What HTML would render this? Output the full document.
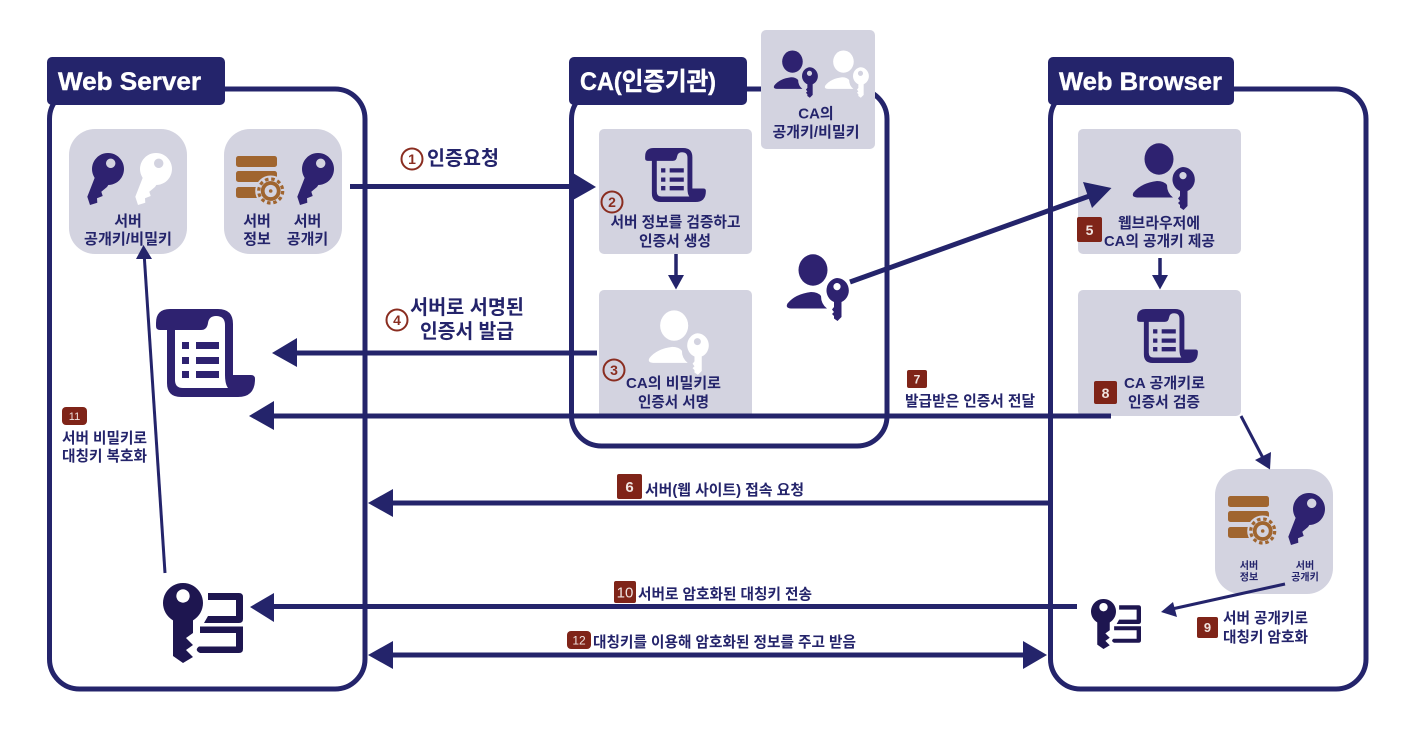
<!DOCTYPE html>
<html lang="ko">
<head>
<meta charset="utf-8">
<title>Diagram</title>
<style>
html,body{margin:0;padding:0;background:#fff;}
svg{display:block;}
text{font-family:"Liberation Sans","Noto Sans CJK KR",sans-serif;font-weight:700;fill:#24246b;}
.m{font-size:15px;text-anchor:middle;}
.s{font-size:15px;}
.t{font-size:25px;fill:#fff;stroke:#fff;stroke-width:.4;}
.b{fill:#f0e4e0;font-size:14px;text-anchor:middle;}
.n{fill:#8a2d20;font-size:14px;text-anchor:middle;}
.a{stroke:#24246b;fill:none;}
.h{fill:#24246b;}
.tile{fill:#d3d3e0;}
.bad{fill:#7f2418;}
.ring2{fill:none;stroke:#8a2d20;stroke-width:2;}
</style>
</head>
<body>
<svg width="1410" height="736" viewBox="0 0 1410 736" xmlns="http://www.w3.org/2000/svg">
<defs>
<symbol id="key" viewBox="0 0 40 56" overflow="visible">
<path fill="currentColor" fill-rule="evenodd" d="M21 2a16 16 0 1 1 -.01 0ZM23.700 7.600a4.700 4.700 0 1 0 .01 0Z"/>
<path fill="currentColor" d="M8 26L24 30L20 36L14.300 40.700L15.700 45L10 47.300L10.300 51.700L3 54L.3 45.700Z"/>
</symbol>
<symbol id="server" viewBox="0 0 50 50" overflow="visible">
<rect x="0" y="0" width="41" height="11" rx="2.500" fill="#a0652f"/>
<rect x="0" y="15" width="41" height="11" rx="2.500" fill="#a0652f"/>
<rect x="0" y="31" width="34" height="11" rx="2.500" fill="#a0652f"/>
<circle cx="34.700" cy="35" r="15.500" fill="#d3d3e0"/>
<circle cx="34.700" cy="35" r="12" fill="none" stroke="#a0652f" stroke-width="3.200" stroke-dasharray="3.500 2.800"/>
<circle cx="34.700" cy="35" r="8" fill="none" stroke="#a0652f" stroke-width="3.800"/>
<circle cx="34.700" cy="35" r="1.800" fill="#a0652f"/>
</symbol>
<symbol id="scroll" viewBox="0 0 99 88" overflow="visible">
<path fill="#2e2270" fill-rule="evenodd" d="M14 0H62Q77 0 77 15V66H95Q99 66 99 70Q99 88 82 88H25Q11 88 11 74V21H4Q0 21 0 17V14Q0 0 14 0ZM19 21V71Q19 79 27 79H72Q69 75 69 66V16Q69 7 60 7Q53 7 52 14Q51 21 45 21Z"/>
<path fill="#2e2270" d="M26 33h7v7h-7zM26 48h7v7h-7zM26 62h7v7h-7zM40 33h23v7h-23zM40 48h23v7h-23zM40 62h23v7h-23z"/>
</symbol>
<symbol id="pk" viewBox="0 0 62 67" overflow="visible">
<ellipse cx="26" cy="16" rx="14.500" ry="15.700" fill="currentColor"/>
<path fill="currentColor" d="M4 54.500Q-2 54 .5 49.500Q8 40 24 38Q31 38 34 42Q34 50 40 54.500Z"/>
<path fill="currentColor" fill-rule="evenodd" d="M50 24a12 12.500 0 0 1 4.500 24V63L50.500 67L47 64.500V62L45 60L47 58L45 55.500L47 53V48A12 12.500 0 0 1 50 24ZM50 29a3.600 3.600 0 1 0 .01 0Z"/>
</symbol>
<symbol id="sym" viewBox="0 0 80 80" overflow="visible">
<path fill="#1e1650" fill-rule="evenodd" d="M20 0a20 20 0 1 1 -.01 0ZM20 6.300a6.700 6.700 0 1 0 .01 0Z"/>
<path fill="#1e1650" d="M10 33H30V50L23 55L30 62L23 67L30 74L20 80L10 73Z"/>
<path fill="#1e1650" d="M45 10H76Q80 10 80 14V36Q80 40 76 40H41L45 33H73V17H45Z"/>
<path fill="#1e1650" d="M37 43.500H80V66Q80 70 76 70H37Q31 67 36 63.500H73V50H37Z"/>
</symbol>
</defs>

<!-- frames -->
<rect x="49.500" y="89" width="315.500" height="600" rx="30" fill="none" stroke="#24246b" stroke-width="5"/>
<rect x="571.500" y="89" width="315.500" height="357" rx="30" fill="none" stroke="#24246b" stroke-width="5"/>
<rect x="1050.500" y="89" width="315.500" height="600" rx="30" fill="none" stroke="#24246b" stroke-width="5"/>

<!-- headers -->
<rect x="47" y="57" width="178" height="48" rx="5" fill="#24246b"/>
<rect x="569" y="57" width="178" height="48" rx="5" fill="#24246b"/>
<rect x="1048" y="57" width="186" height="48" rx="5" fill="#24246b"/>
<text class="t" x="58" y="90" textLength="143" lengthAdjust="spacingAndGlyphs">Web Server</text>
<text class="t" x="580" y="90" textLength="136" lengthAdjust="spacingAndGlyphs">CA(인증기관)</text>
<text class="t" x="1059" y="90" textLength="163" lengthAdjust="spacingAndGlyphs">Web Browser</text>

<!-- tiles -->
<rect class="tile" x="69" y="129" width="118" height="125" rx="26"/>
<rect class="tile" x="224" y="129" width="118" height="125" rx="26"/>
<rect class="tile" x="599" y="129" width="153" height="125" rx="5"/>
<rect class="tile" x="599" y="290" width="153" height="128" rx="5"/>
<rect class="tile" x="761" y="30" width="114" height="119" rx="5"/>
<rect class="tile" x="1078" y="129" width="163" height="125" rx="5"/>
<rect class="tile" x="1078" y="290" width="163" height="126" rx="5"/>
<rect class="tile" x="1215" y="469" width="118" height="125" rx="26"/>

<!-- icons -->
<use href="#key" x="87" y="151" width="40" height="56" color="#2e2270"/>
<use href="#key" x="135" y="151" width="40" height="56" color="#ffffff"/>
<use href="#server" x="236" y="156" width="50" height="50"/>
<use href="#key" x="297" y="151" width="40" height="56" color="#2e2270"/>
<use href="#server" x="1228" y="496" width="50" height="50"/>
<use href="#key" x="1288" y="491" width="40" height="56" color="#2e2270"/>
<use href="#scroll" x="645" y="148" width="61" height="54"/>
<use href="#scroll" x="1137" y="309" width="61" height="54"/>
<use href="#scroll" x="156" y="309" width="99" height="88"/>
<use href="#pk" x="1133" y="143" width="62" height="67" color="#2e2270"/>
<use href="#pk" x="787" y="254" width="62" height="67" color="#2e2270"/>
<use href="#pk" x="649" y="310" width="60" height="65" color="#ffffff"/>
<use href="#pk" x="774" y="50" width="44" height="48" color="#2e2270"/>
<use href="#pk" x="825" y="50" width="44" height="48" color="#ffffff"/>
<use href="#sym" x="163" y="583" width="80" height="80"/>
<use href="#sym" x="1091" y="599" width="50" height="50"/>

<!-- arrows -->
<path class="a" stroke-width="5" d="M350 186.500H575"/>
<path class="h" d="M573 173L596 187L573 200Z"/>
<path class="a" stroke-width="3.500" d="M676 254V277"/>
<path class="h" d="M668 275H684L676 289.500Z"/>
<path class="a" stroke-width="3.500" d="M1160 258V277"/>
<path class="h" d="M1152 275H1168L1160 289.500Z"/>
<path class="a" stroke-width="5" d="M597 353H295"/>
<path class="h" d="M272 353L297 338V367Z"/>
<path class="a" stroke-width="5" d="M1111 416H272"/>
<path class="h" d="M249 416L274 401V430Z"/>
<path class="a" stroke-width="5" d="M850 282L1095 194"/>
<path class="h" d="M1111.500 188L1083 182L1092 208Z"/>
<path class="a" stroke-width="5" d="M1048 503H391"/>
<path class="h" d="M368 503L393 489V517Z"/>
<path class="a" stroke-width="5" d="M1077 606.500H272"/>
<path class="h" d="M250 607L274 593V622Z"/>
<path class="a" stroke-width="5" d="M391 655H1025"/>
<path class="h" d="M368 655L393 641V669Z"/>
<path class="h" d="M1047 655L1023 641V669Z"/>
<path class="a" stroke-width="3" d="M165 573L144.300 257"/>
<path class="h" d="M143.500 245L136 259H152Z"/>
<path class="a" stroke-width="3" d="M1285 584L1172 609"/>
<path class="h" d="M1161 612L1173 602L1177 617Z"/>
<path class="a" stroke-width="3" d="M1241 416L1263 458"/>
<path class="h" d="M1270 469.500L1255 460L1271 452Z"/>

<!-- tile labels -->
<text class="m" x="128" y="226">서버</text>
<text class="m" x="128" y="244" textLength="88" lengthAdjust="spacingAndGlyphs">공개키/비밀키</text>
<text class="m" x="257" y="226">서버</text>
<text class="m" x="257" y="244">정보</text>
<text class="m" x="307.500" y="226">서버</text>
<text class="m" x="307.500" y="244">공개키</text>
<text class="m" x="816" y="118.500">CA의</text>
<text class="m" x="816" y="137" textLength="87" lengthAdjust="spacingAndGlyphs">공개키/비밀키</text>
<text class="m" x="675.500" y="227" textLength="130" lengthAdjust="spacingAndGlyphs">서버 정보를 검증하고</text>
<text class="m" x="675" y="246" textLength="72" lengthAdjust="spacingAndGlyphs">인증서 생성</text>
<text class="m" x="673.500" y="388" textLength="95" lengthAdjust="spacingAndGlyphs">CA의 비밀키로</text>
<text class="m" x="673.500" y="407" textLength="71" lengthAdjust="spacingAndGlyphs">인증서 서명</text>
<text class="m" x="1159" y="228" textLength="82" lengthAdjust="spacingAndGlyphs">웹브라우저에</text>
<text class="m" x="1159.500" y="246" textLength="111" lengthAdjust="spacingAndGlyphs">CA의 공개키 제공</text>
<text class="m" x="1164.500" y="388" textLength="81" lengthAdjust="spacingAndGlyphs">CA 공개키로</text>
<text class="m" x="1164" y="407" textLength="72" lengthAdjust="spacingAndGlyphs">인증서 검증</text>
<text class="m" style="font-size:10px" x="1249" y="569">서버</text>
<text class="m" style="font-size:10px" x="1249" y="580.500">정보</text>
<text class="m" style="font-size:10px" x="1305" y="569">서버</text>
<text class="m" style="font-size:10px" x="1305" y="580.500">공개키</text>

<!-- numbered circles -->
<circle class="ring2" cx="412" cy="159" r="10.500"/>
<text class="n" x="412" y="164">1</text>
<text x="427" y="165" style="font-size:20px" textLength="72" lengthAdjust="spacingAndGlyphs">인증요청</text>
<circle class="ring2" cx="612" cy="202" r="10.500"/>
<text class="n" x="612" y="207">2</text>
<circle class="ring2" cx="614" cy="370" r="10.500"/>
<text class="n" x="614" y="375">3</text>
<circle class="ring2" cx="397" cy="320" r="10.500"/>
<text class="n" x="397" y="325">4</text>
<text x="467" y="314" style="font-size:20px;text-anchor:middle" textLength="114" lengthAdjust="spacingAndGlyphs">서버로 서명된</text>
<text x="467" y="338" style="font-size:20px;text-anchor:middle" textLength="94" lengthAdjust="spacingAndGlyphs">인증서 발급</text>

<!-- badges -->
<rect class="bad" x="1077" y="217" width="25" height="25" rx="2"/>
<text class="b" x="1089.500" y="235">5</text>
<rect class="bad" x="1094" y="381" width="23" height="23" rx="2"/>
<text class="b" x="1105.500" y="398">8</text>
<rect class="bad" x="907" y="370" width="20" height="18" rx="2"/>
<text class="b" style="font-size:12px" x="917" y="383.500">7</text>
<text class="s" x="905" y="406" textLength="130" lengthAdjust="spacingAndGlyphs">발급받은 인증서 전달</text>
<rect class="bad" x="617" y="474" width="25" height="25" rx="2"/>
<text class="b" style="font-size:15px" x="629.500" y="492">6</text>
<text class="s" x="645" y="495" textLength="159" lengthAdjust="spacingAndGlyphs">서버(웹 사이트) 접속 요청</text>
<rect class="bad" x="614" y="581" width="22" height="22" rx="2"/>
<text class="b" style="font-size:15px;font-weight:400" x="625" y="597.500">10</text>
<text class="s" x="638" y="599" textLength="174" lengthAdjust="spacingAndGlyphs">서버로 암호화된 대칭키 전송</text>
<rect class="bad" x="567" y="631" width="24" height="18" rx="4"/>
<text class="b" style="font-size:12px;font-weight:400" x="579" y="644.500">12</text>
<text class="s" x="593" y="647" textLength="263" lengthAdjust="spacingAndGlyphs">대칭키를 이용해 암호화된 정보를 주고 받음</text>
<rect class="bad" x="1197" y="617" width="21" height="21" rx="2"/>
<text class="b" style="font-size:13px" x="1207.500" y="632">9</text>
<text class="s" x="1223" y="623" textLength="85" lengthAdjust="spacingAndGlyphs">서버 공개키로</text>
<text class="s" x="1223" y="642" textLength="85" lengthAdjust="spacingAndGlyphs">대칭키 암호화</text>
<rect class="bad" x="62" y="407" width="25" height="18" rx="4"/>
<text class="b" style="font-size:11px;font-weight:400" x="74.500" y="420">11</text>
<text class="s" x="62" y="443" textLength="85" lengthAdjust="spacingAndGlyphs">서버 비밀키로</text>
<text class="s" x="62" y="461" textLength="85" lengthAdjust="spacingAndGlyphs">대칭키 복호화</text>
</svg>
</body>
</html>
